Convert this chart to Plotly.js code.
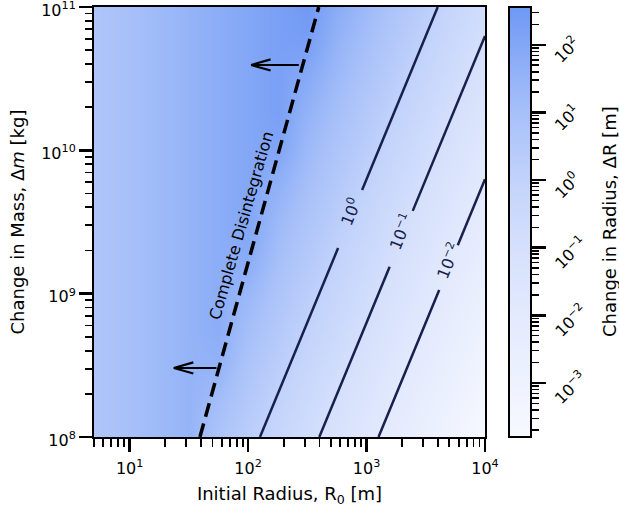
<!DOCTYPE html>
<html><head><meta charset="utf-8">
<script src="https://cdn.plot.ly/plotly-3.0.1.min.js"></script>
<style>html,body{margin:0;padding:0;background:#fff}#chart{width:619px;height:510px}</style>
</head><body><div id="chart"></div>
<script>
// ---- data ----
// heat map grid: initial radius R0 [m] (columns) and change in mass [kg] (rows)
const radiusGrid = [3.16, 5.62, 10, 17.8, 31.6, 56.2, 100, 178, 316, 562, 1000, 1778, 3162, 5623, 10000];
const massGrid = [1e8, 1.78e8, 3.16e8, 5.62e8, 1e9, 1.78e9, 3.16e9, 5.62e9, 1e10, 1.78e10, 3.16e10, 5.62e10, 1e11];
// log10 of change in radius, one row per mass value
const logDeltaR = [
  [0.50,0.75,1.00,1.25,1.50,0.80,0.26,-0.25,-0.75,-1.25,-1.75,-2.25,-2.75,-3.25,-3.75],
  [0.50,0.75,1.00,1.25,1.50,1.11,0.52,0.01,-0.50,-1.00,-1.50,-2.00,-2.50,-3.00,-3.50],
  [0.50,0.75,1.00,1.25,1.50,1.56,0.78,0.26,-0.25,-0.75,-1.25,-1.75,-2.25,-2.75,-3.25],
  [0.50,0.75,1.00,1.25,1.50,1.75,1.05,0.51,0.00,-0.50,-1.00,-1.50,-2.00,-2.50,-3.00],
  [0.50,0.75,1.00,1.25,1.50,1.75,1.36,0.77,0.26,-0.25,-0.75,-1.25,-1.75,-2.25,-2.75],
  [0.50,0.75,1.00,1.25,1.50,1.75,1.81,1.03,0.51,0.00,-0.50,-1.00,-1.50,-2.00,-2.50],
  [0.50,0.75,1.00,1.25,1.50,1.75,2.00,1.30,0.76,0.25,-0.25,-0.75,-1.25,-1.75,-2.25],
  [0.50,0.75,1.00,1.25,1.50,1.75,2.00,1.61,1.02,0.51,0.00,-0.50,-1.00,-1.50,-2.00],
  [0.50,0.75,1.00,1.25,1.50,1.75,2.00,2.06,1.28,0.76,0.25,-0.25,-0.75,-1.25,-1.75],
  [0.50,0.75,1.00,1.25,1.50,1.75,2.00,2.25,1.55,1.01,0.50,0.00,-0.50,-1.00,-1.50],
  [0.50,0.75,1.00,1.25,1.50,1.75,2.00,2.25,1.86,1.27,0.76,0.25,-0.25,-0.75,-1.25],
  [0.50,0.75,1.00,1.25,1.50,1.75,2.00,2.25,2.31,1.53,1.01,0.50,0.00,-0.50,-1.00],
  [0.50,0.75,1.00,1.25,1.50,1.75,2.00,2.25,2.50,1.80,1.26,0.75,0.25,-0.25,-0.75]
];
const colorMin = -3.8, colorMax = 2.56;

// complete disintegration boundary
const disintegrationR = [39.2, 395];
const disintegrationM = [1e8, 1e11];

// contour lines of constant change in radius (split around their labels)
const contourLabels = ['10<sup>0</sup>', '10<sup>\u22121</sup>', '10<sup>\u22122</sup>'];
const contourLowerR = [[126, 575], [399, 1567], [1262, 4105]];
const contourLowerM = [[1e8, 2.08e9], [1e8, 1.54e9], [1e8, 1.06e9]];
const contourUpperR = [[917, 3990], [2455, 10000], [5890, 10000]];
const contourUpperM = [[5.28e9, 1e11], [3.78e9, 6.28e10], [2.18e9, 6.28e9]];
const contourLabelR = [726, 1961, 4915];
const contourLabelM = [3.7e9, 2.7e9, 1.7e9];

// arrows pointing toward the disintegrated side
const arrowHeadR = [106, 23.6];
const arrowTailR = [276, 55.7];
const arrowMass = [3.94e10, 3.03e8];

// tick labels
const xTickVals = [10, 100, 1000, 10000];
const xTickText = ['10<sup>1</sup>', '10<sup>2</sup>', '10<sup>3</sup>', '10<sup>4</sup>'];
const yTickVals = [1e8, 1e9, 1e10, 1e11];
const yTickText = ['10<sup>8</sup>', '10<sup>9</sup>', '10<sup>10</sup>', '10<sup>11</sup>'];
const cbTickVals = [-3, -2, -1, 0, 1, 2];
const cbTickText = ['10<sup>\u22123</sup>', '10<sup>\u22122</sup>', '10<sup>\u22121</sup>', '10<sup>0</sup>', '10<sup>1</sup>', '10<sup>2</sup>'];

// ---- styling helpers ----
function minorLogTicks(lo, hi) {
  const out = [];
  for (let e = Math.floor(Math.log10(lo)); e <= Math.ceil(Math.log10(hi)); e++) {
    for (let m = 2; m <= 9; m++) {
      const v = m * Math.pow(10, e);
      if (v >= lo && v <= hi) out.push(v);
    }
  }
  return out;
}
const FONT = 'DejaVu Sans, Liberation Sans, sans-serif';
const NAVY = '#18214d';
const PW = 437; // paper width in px (plot + colorbar)

const colorscale = [
  [0.000, '#f7f9ff'],
  [0.126, '#eef2fe'],
  [0.283, '#e3eafd'],
  [0.440, '#d5e0fc'],
  [0.597, '#c2d3fb'],
  [0.755, '#a7c0f9'],
  [0.912, '#83a7f6'],
  [1.000, '#6f98f5']
];

const traces = [];
traces.push({
  type: 'heatmap', x: radiusGrid, y: massGrid, z: logDeltaR,
  zsmooth: 'best', colorscale: colorscale, zmin: colorMin, zmax: colorMax,
  hoverinfo: 'skip',
  colorbar: {
    x: 415 / PW, xanchor: 'left', xpad: 0, ypad: 0,
    y: 0.5, yanchor: 'middle', len: 1, lenmode: 'fraction',
    thickness: 22, outlinewidth: 2, outlinecolor: 'black',
    tickmode: 'array', tickvals: cbTickVals, showticklabels: false,
    ticks: 'outside', ticklen: 14, tickwidth: 2.5, tickcolor: 'black'
  }
});

for (let i = 0; i < contourLabels.length; i++) {
  traces.push({type: 'scatter', mode: 'lines', x: contourLowerR[i], y: contourLowerM[i],
    line: {color: NAVY, width: 2.5}, hoverinfo: 'skip', showlegend: false});
  traces.push({type: 'scatter', mode: 'lines', x: contourUpperR[i], y: contourUpperM[i],
    line: {color: NAVY, width: 2.5}, hoverinfo: 'skip', showlegend: false});
}

traces.push({type: 'scatter', mode: 'lines', x: disintegrationR, y: disintegrationM,
  line: {color: 'black', width: 3.5, dash: '14px,7px'}, hoverinfo: 'skip', showlegend: false});

// placeholder trace so the colorbar tick axis exists
traces.push({type: 'scatter', mode: 'markers', x: [0.5], y: [1], xaxis: 'x2', yaxis: 'y2',
  marker: {opacity: 0}, hoverinfo: 'skip', showlegend: false});

const annotations = [];
for (let i = 0; i < contourLabels.length; i++) {
  annotations.push({x: Math.log10(contourLabelR[i]), y: Math.log10(contourLabelM[i]), xref: 'x', yref: 'y',
    text: contourLabels[i], showarrow: false, textangle: -67.6,
    font: {family: FONT, size: 16, color: NAVY}});
}
annotations.push({x: Math.log10(87), y: Math.log10(3.01e9), xref: 'x', yref: 'y',
  text: 'Complete Disintegration', showarrow: false, textangle: -74,
  font: {family: FONT, size: 16, color: 'black'}});
// colorbar tick labels (rotated) and title
for (let i = 0; i < cbTickVals.length; i++) {
  annotations.push({x: (547 - 94) / PW, y: cbTickVals[i], xref: 'paper', yref: 'y2',
    text: cbTickText[i], showarrow: false, textangle: -45, xanchor: 'left', yanchor: 'middle',
    yshift: -5, font: {family: FONT, size: 16, color: 'black'}});
}
annotations.push({x: (609 - 94) / PW, y: 0.5, xref: 'paper', yref: 'paper',
  text: 'Change in Radius, \u0394R [m]', showarrow: false, textangle: -90,
  xanchor: 'center', yanchor: 'middle', font: {family: FONT, size: 18, color: 'black'}});
// arrows: shaft from the boundary, plus two short barbs at the head
for (let i = 0; i < arrowHeadR.length; i++) {
  const hx = Math.log10(arrowHeadR[i]), hy = Math.log10(arrowMass[i]);
  annotations.push({x: hx, y: hy, xref: 'x', yref: 'y', axref: 'x', ayref: 'y',
    ax: Math.log10(arrowTailR[i]), ay: hy, text: '', showarrow: true, arrowhead: 0,
    arrowwidth: 2.2, arrowcolor: 'black', standoff: 0, startstandoff: 0});
  [-6, 6].forEach(function (dy) {
    annotations.push({x: hx, y: hy, xref: 'x', yref: 'y', ax: 21, ay: dy, text: '',
      showarrow: true, arrowhead: 0, arrowwidth: 2.2, arrowcolor: 'black', standoff: 0, startstandoff: 0});
  });
}

const axisCommon = {
  type: 'log', tickmode: 'array', ticks: 'outside', ticklen: 13, tickwidth: 2.5, tickcolor: 'black',
  showline: true, linewidth: 2, linecolor: 'black', mirror: true, zeroline: false,
  showgrid: true, gridcolor: '#c9c9c9', gridwidth: 1.5, griddash: 'dot',
  ticklabeloverflow: 'allow',
  tickfont: {family: FONT, size: 16, color: 'black'}
};

const layout = {
  width: 619, height: 510,
  margin: {l: 94, r: 88, t: 7, b: 73, autoexpand: false},
  paper_bgcolor: 'white', plot_bgcolor: 'white',
  showlegend: false,
  font: {family: FONT, color: 'black'},
  xaxis: Object.assign({}, axisCommon, {
    domain: [0, 391 / PW], range: [Math.log10(5), 4.00001],
    tickvals: xTickVals, ticktext: xTickText, ticklabelstandoff: 3,
    minor: {tickmode: 'array', tickvals: minorLogTicks(5, 10000), ticks: 'outside', ticklen: 7.5, tickwidth: 1.8, tickcolor: 'black', showgrid: false},
    title: {text: 'Initial Radius, R<sub>0</sub> [m]', font: {family: FONT, size: 18, color: 'black'}, standoff: 10}
  }),
  yaxis: Object.assign({}, axisCommon, {
    range: [7.99999, 11.00001],
    tickvals: yTickVals, ticktext: yTickText, ticklabelshift: 3,
    minor: {tickmode: 'array', tickvals: minorLogTicks(1e8, 1e11), ticks: 'outside', ticklen: 7.5, tickwidth: 1.8, tickcolor: 'black', showgrid: false},
    title: {text: 'Change in Mass, \u0394<i>m</i> [kg]', font: {family: FONT, size: 18, color: 'black'}, standoff: 12}
  }),
  xaxis2: {domain: [415 / PW, 1], anchor: 'y2', visible: false, range: [0, 1]},
  yaxis2: {
    domain: [0, 1], anchor: 'x2', side: 'right', type: 'log', range: [colorMin, colorMax],
    showgrid: false, zeroline: false, showline: false, ticks: '', showticklabels: false,
    tickmode: 'array', tickvals: [],
    minor: {tickmode: 'array', tickvals: minorLogTicks(1.6e-4, 363), ticks: 'outside', ticklen: 6.5, tickwidth: 1.5, tickcolor: 'black', showgrid: false}
  },
  annotations: annotations
};

Plotly.newPlot('chart', traces, layout, {displayModeBar: false, staticPlot: true});
</script></body></html>
